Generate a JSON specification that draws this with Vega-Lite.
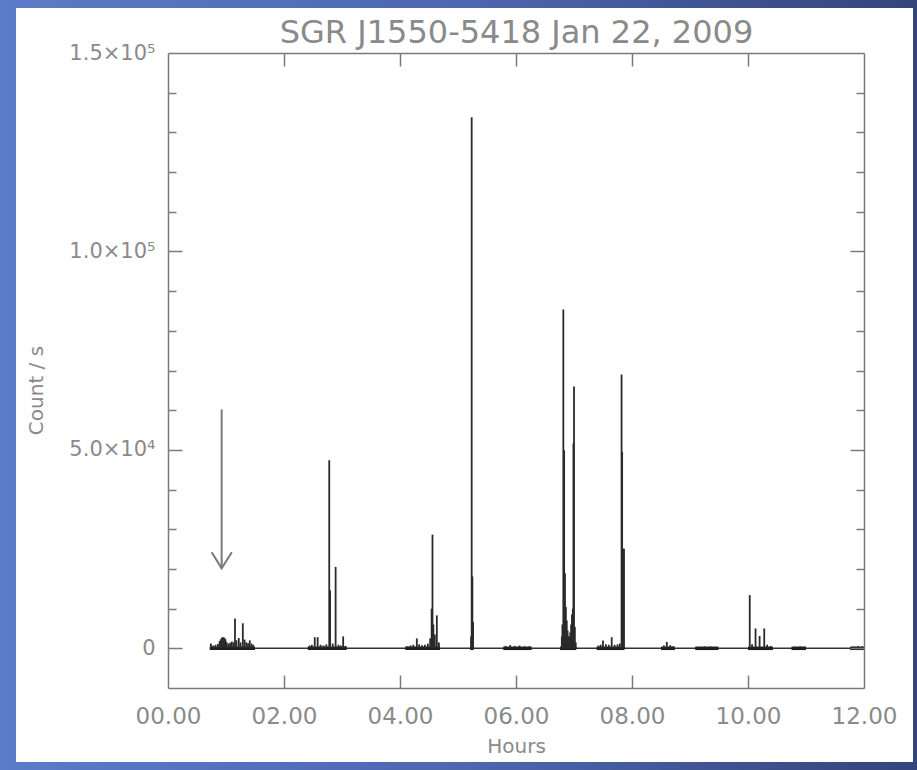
{
  "$schema": "https://vega.github.io/schema/vega-lite/v6.json",
  "width": 696,
  "height": 635,
  "autosize": {"type": "none"},
  "padding": {"left": 168, "top": 53, "right": 53, "bottom": 82},
  "background": "#4a63a8",
  "config": {"view": {"stroke": null}, "font": "DejaVu Sans"},
  "datasets": {
    "spikes": [
      {"hours": 0.74, "count": 1200}, {"hours": 0.78, "count": 700}, {"hours": 0.82, "count": 900}, {"hours": 0.86, "count": 1100},
      {"hours": 0.89, "count": 1800}, {"hours": 0.91, "count": 2300}, {"hours": 0.93, "count": 2700}, {"hours": 0.95, "count": 2800},
      {"hours": 0.97, "count": 2700}, {"hours": 0.99, "count": 2300}, {"hours": 1.01, "count": 1600}, {"hours": 1.04, "count": 1200},
      {"hours": 1.07, "count": 1400}, {"hours": 1.10, "count": 1700}, {"hours": 1.13, "count": 1500}, {"hours": 1.155, "count": 7500},
      {"hours": 1.18, "count": 2000}, {"hours": 1.22, "count": 2600}, {"hours": 1.25, "count": 1500}, {"hours": 1.29, "count": 6300},
      {"hours": 1.32, "count": 2200}, {"hours": 1.35, "count": 1500}, {"hours": 1.38, "count": 1300}, {"hours": 1.41, "count": 2000},
      {"hours": 1.44, "count": 1200}, {"hours": 1.47, "count": 900},
      {"hours": 2.44, "count": 700}, {"hours": 2.48, "count": 900}, {"hours": 2.53, "count": 2800}, {"hours": 2.58, "count": 2800},
      {"hours": 2.63, "count": 900}, {"hours": 2.68, "count": 700}, {"hours": 2.73, "count": 1000}, {"hours": 2.78, "count": 47400},
      {"hours": 2.795, "count": 14600}, {"hours": 2.84, "count": 1200}, {"hours": 2.89, "count": 20500}, {"hours": 2.94, "count": 900},
      {"hours": 2.98, "count": 700}, {"hours": 3.02, "count": 3000}, {"hours": 3.06, "count": 600},
      {"hours": 4.13, "count": 500}, {"hours": 4.18, "count": 700}, {"hours": 4.23, "count": 900}, {"hours": 4.29, "count": 2500},
      {"hours": 4.33, "count": 1000}, {"hours": 4.38, "count": 800}, {"hours": 4.43, "count": 900}, {"hours": 4.48, "count": 1200},
      {"hours": 4.52, "count": 2500}, {"hours": 4.545, "count": 10000}, {"hours": 4.56, "count": 28650}, {"hours": 4.575, "count": 6000},
      {"hours": 4.6, "count": 3500}, {"hours": 4.635, "count": 8300}, {"hours": 4.67, "count": 1500},
      {"hours": 5.225, "count": 3000}, {"hours": 5.236, "count": 133800}, {"hours": 5.248, "count": 18100}, {"hours": 5.26, "count": 6600},
      {"hours": 5.82, "count": 600}, {"hours": 5.9, "count": 800}, {"hours": 5.98, "count": 600}, {"hours": 6.06, "count": 700},
      {"hours": 6.15, "count": 500}, {"hours": 6.23, "count": 500},
      {"hours": 6.79, "count": 3000}, {"hours": 6.80, "count": 6000}, {"hours": 6.816, "count": 85400}, {"hours": 6.83, "count": 49900},
      {"hours": 6.845, "count": 18900}, {"hours": 6.86, "count": 10400}, {"hours": 6.875, "count": 7000}, {"hours": 6.89, "count": 4500},
      {"hours": 6.905, "count": 3000}, {"hours": 6.92, "count": 3000}, {"hours": 6.935, "count": 4000}, {"hours": 6.95, "count": 6000},
      {"hours": 6.965, "count": 8500}, {"hours": 6.98, "count": 10000}, {"hours": 6.99, "count": 51600}, {"hours": 7.0, "count": 66000},
      {"hours": 7.015, "count": 5400}, {"hours": 7.03, "count": 1500},
      {"hours": 7.42, "count": 700}, {"hours": 7.46, "count": 900}, {"hours": 7.5, "count": 2000}, {"hours": 7.55, "count": 1000},
      {"hours": 7.6, "count": 900}, {"hours": 7.65, "count": 2800}, {"hours": 7.7, "count": 900}, {"hours": 7.75, "count": 1000},
      {"hours": 7.79, "count": 1200}, {"hours": 7.82, "count": 69000}, {"hours": 7.83, "count": 49500}, {"hours": 7.85, "count": 25100},
      {"hours": 7.862, "count": 25100},
      {"hours": 8.55, "count": 700}, {"hours": 8.6, "count": 1600}, {"hours": 8.66, "count": 800}, {"hours": 8.71, "count": 500},
      {"hours": 9.15, "count": 400}, {"hours": 9.25, "count": 500}, {"hours": 9.35, "count": 500}, {"hours": 9.44, "count": 400},
      {"hours": 10.03, "count": 13400}, {"hours": 10.07, "count": 1000}, {"hours": 10.13, "count": 5000}, {"hours": 10.2, "count": 3100},
      {"hours": 10.28, "count": 5000}, {"hours": 10.33, "count": 900}, {"hours": 10.39, "count": 600},
      {"hours": 10.82, "count": 400}, {"hours": 10.9, "count": 500}, {"hours": 10.97, "count": 400},
      {"hours": 11.82, "count": 500}, {"hours": 11.9, "count": 600}, {"hours": 11.97, "count": 500}
    ],
    "segments": [
      {"start": 0.72, "end": 1.5}, {"start": 2.41, "end": 3.08}, {"start": 4.09, "end": 4.69}, {"start": 5.21, "end": 5.27},
      {"start": 5.78, "end": 6.27}, {"start": 6.76, "end": 7.04}, {"start": 7.39, "end": 7.87}, {"start": 8.5, "end": 8.74},
      {"start": 9.09, "end": 9.49}, {"start": 10.0, "end": 10.43}, {"start": 10.75, "end": 11.0}, {"start": 11.76, "end": 12.0}
    ],
    "coverage": [{"start": 0.72, "end": 12.0}],
    "arrow": [
      {"part": "shaft", "seq": 1, "hours": 0.925, "count": 60200},
      {"part": "shaft", "seq": 2, "hours": 0.925, "count": 20160},
      {"part": "head", "seq": 1, "hours": 0.753, "count": 24200},
      {"part": "head", "seq": 2, "hours": 0.925, "count": 20160},
      {"part": "head", "seq": 3, "hours": 1.10, "count": 24200}
    ],
    "panel": [{"label": "page"}]
  },
  "layer": [
    {
      "data": {"name": "panel"},
      "mark": {"type": "rect", "clip": false, "color": {"gradient": "linear", "x1": 0, "x2": 1, "y1": 0, "y2": 0, "stops": [{"offset": 0, "color": "#5b7cc8"}, {"offset": 0.5, "color": "#4d67b0"}, {"offset": 1, "color": "#34437a"}]}},
      "encoding": {
        "x": {"datum": -3, "type": "quantitative", "scale": {"domain": [0, 12], "nice": false, "zero": false},
          "axis": {"orient": "bottom", "values": [0, 2, 4, 6, 8, 10, 12], "ticks": false, "domain": true, "domainColor": "#7a7a7a", "domainWidth": 1.5, "grid": false,
            "labelExpr": "(datum.value < 10 ? '0' : '') + format(datum.value, '.2f')", "labelFont": "DejaVu Sans", "labelFontSize": 23, "labelColor": "#8a8a8a", "labelPadding": 17, "labelFlush": false, "labelOverlap": false,
            "title": "Hours", "titleFont": "DejaVu Sans", "titleFontSize": 20, "titleFontWeight": "normal", "titleColor": "#8a8a8a", "titlePadding": 8, "zindex": 1}},
        "x2": {"datum": 13.1},
        "y": {"datum": 170000, "type": "quantitative", "scale": {"domain": [-10000, 150000], "nice": false, "zero": false},
          "axis": {"orient": "left", "values": [0, 50000, 100000, 150000], "ticks": false, "domain": true, "domainColor": "#7a7a7a", "domainWidth": 1.5, "grid": false,
            "labelExpr": "datum.value == 0 ? '0' : datum.value == 50000 ? '5.0×10⁴' : datum.value == 100000 ? '1.0×10⁵' : '1.5×10⁵'",
            "labelFont": "DejaVu Sans", "labelFontSize": 21, "labelColor": "#8a8a8a", "labelPadding": 13, "labelFlush": false, "labelOverlap": false, "labelBound": false,
            "title": "Count / s", "titleFont": "DejaVu Sans", "titleFontSize": 20, "titleFontWeight": "normal", "titleColor": "#8a8a8a", "titlePadding": 22, "titleY": 337, "zindex": 1}},
        "y2": {"datum": -35000}
      }
    },
    {
      "data": {"name": "panel"},
      "mark": {"type": "rect", "clip": false, "color": "#ffffff"},
      "encoding": {
        "x": {"datum": -2.62, "type": "quantitative", "scale": {"domain": [0, 12], "nice": false, "zero": false},
          "axis": {"orient": "bottom", "values": [2, 4, 6, 8, 10], "domain": false, "labels": false, "ticks": true, "tickSize": -13, "tickColor": "#7a7a7a", "tickWidth": 1.5, "grid": false, "title": null, "zindex": 1}},
        "x2": {"datum": 12.845},
        "y": {"datum": 161350, "type": "quantitative", "scale": {"domain": [-10000, 150000], "nice": false, "zero": false},
          "axis": {"orient": "left", "values": [0, 50000, 100000], "domain": false, "labels": false, "ticks": true, "tickSize": -14, "tickColor": "#7a7a7a", "tickWidth": 1.5, "grid": false, "title": null, "zindex": 1}},
        "y2": {"datum": -28650}
      }
    },
    {
      "data": {"name": "coverage"},
      "mark": {"type": "rule", "color": "#333333", "strokeWidth": 1.5},
      "encoding": {
        "x": {"field": "start", "type": "quantitative", "scale": {"domain": [0, 12], "nice": false, "zero": false}, "axis": null},
        "x2": {"field": "end"},
        "y": {"datum": 0, "type": "quantitative", "scale": {"domain": [-10000, 150000], "nice": false, "zero": false}, "axis": null}
      }
    },
    {
      "data": {"name": "segments"},
      "mark": {"type": "rule", "color": "#1e1e1e", "strokeWidth": 3.5},
      "encoding": {
        "x": {"field": "start", "type": "quantitative", "scale": {"domain": [0, 12], "nice": false, "zero": false},
          "axis": {"orient": "top", "values": [2, 4, 6, 8, 10], "domain": true, "domainColor": "#7a7a7a", "domainWidth": 1.5, "labels": false, "ticks": true, "tickSize": -13, "tickColor": "#7a7a7a", "tickWidth": 1.5, "grid": false,
            "title": "SGR J1550-5418 Jan 22, 2009", "titleFont": "DejaVu Sans", "titleFontSize": 32, "titleFontWeight": "normal", "titleColor": "#8a8a8a", "titlePadding": 3, "zindex": 1}},
        "x2": {"field": "end"},
        "y": {"datum": 0, "type": "quantitative", "scale": {"domain": [-10000, 150000], "nice": false, "zero": false},
          "axis": {"orient": "left", "values": [10000, 20000, 30000, 40000, 60000, 70000, 80000, 90000, 110000, 120000, 130000, 140000], "domain": false, "labels": false, "ticks": true, "tickSize": -8, "tickColor": "#7a7a7a", "tickWidth": 1.5, "grid": false, "title": null, "zindex": 1}}
      }
    },
    {
      "data": {"name": "spikes"},
      "mark": {"type": "rule", "color": "#2a2a2a", "strokeWidth": 1.8},
      "encoding": {
        "x": {"field": "hours", "type": "quantitative", "scale": {"domain": [0, 12], "nice": false, "zero": false}, "axis": null},
        "y": {"field": "count", "type": "quantitative", "scale": {"domain": [-10000, 150000], "nice": false, "zero": false},
          "axis": {"orient": "right", "values": [0, 50000, 100000], "domain": true, "domainColor": "#7a7a7a", "domainWidth": 1.5, "labels": false, "ticks": true, "tickSize": -14, "tickColor": "#7a7a7a", "tickWidth": 1.5, "grid": false, "title": null, "zindex": 1}},
        "y2": {"datum": 0}
      }
    },
    {
      "data": {"name": "arrow"},
      "mark": {"type": "line", "color": "#7a7a7a", "strokeWidth": 2},
      "encoding": {
        "x": {"field": "hours", "type": "quantitative", "scale": {"domain": [0, 12], "nice": false, "zero": false}, "axis": null},
        "y": {"field": "count", "type": "quantitative", "scale": {"domain": [-10000, 150000], "nice": false, "zero": false},
          "axis": {"orient": "right", "values": [10000, 20000, 30000, 40000, 60000, 70000, 80000, 90000, 110000, 120000, 130000, 140000], "domain": false, "labels": false, "ticks": true, "tickSize": -8, "tickColor": "#7a7a7a", "tickWidth": 1.5, "grid": false, "title": null, "zindex": 1}},
        "detail": {"field": "part", "type": "nominal"},
        "order": {"field": "seq", "type": "quantitative"}
      }
    }
  ],
  "resolve": {"axis": {"x": "independent", "y": "independent"}}
}
